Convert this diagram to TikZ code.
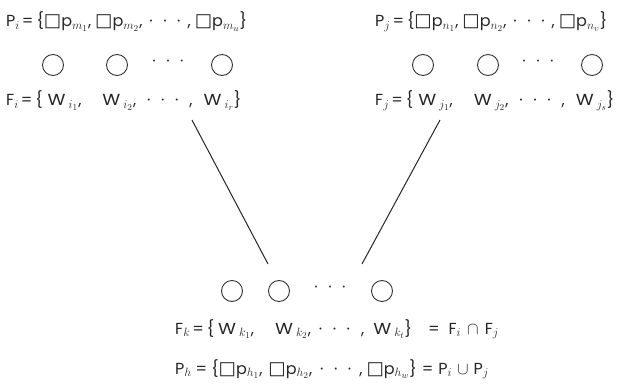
\documentclass[tikz,border=0pt]{standalone}
\usepackage{graphicx}
\usepackage{fontspec}
\setmainfont{Poppins}
\newfontfamily\symf{DejaVu Sans}
\DeclareMathSizes{16}{16}{12.5}{9}
\newcommand\sqb{\scalebox{1.15}{\symf □}}
\newcommand\dd{·\hspace{10.5pt}·\hspace{10.5pt}·}
\newcommand\Wd{\scalebox{1.15}[1]{W}}
\begin{document}
\begin{tikzpicture}[x=1pt,y=-1pt,
  txt/.style={anchor=base west,inner sep=0pt,text=black!85,font=\fontsize{16}{18}\selectfont},
  circ/.style={circle,draw=black!80,line width=0.9pt,minimum size=21pt,inner sep=0pt},
  dotsn/.style={inner sep=0pt,text=black!80,font=\fontsize{16}{18}\selectfont},
  edge/.style={draw=black!85,line width=1pt}]
\useasboundingbox (0,0) rectangle (627,385);
% left set
\node[txt] (Pi) at (6,27) {P$_i$\hspace{2pt}=\hspace{3pt}\{\sqb p$_{m_1}$,\hspace{4pt}\sqb p$_{m_2}$,\hspace{7pt}\dd\hspace{7pt},\hspace{4pt}\sqb p$_{m_u}$\}};
\node[circ] (ci1) at (53,65) {};
\node[circ] (ci2) at (117,65) {};
\node[dotsn] (di) at (168,63) {\dd};
\node[circ] (ci3) at (222,65) {};
\node[txt] (Fi) at (6,106) {F$_i$\hspace{2pt}=\hspace{3pt}\{\hspace{5pt}\Wd\hspace{3pt}$_{i_1}$,\hspace{21pt}\Wd\hspace{3pt}$_{i_2}$,\hspace{11pt}\dd\hspace{11pt},\hspace{11pt}\Wd\hspace{3pt}$_{i_r}$\}};
% right set
\node[txt] (Pj) at (375,27) {P$_j$\hspace{2pt}=\hspace{3pt}\{\sqb p$_{n_1}$,\hspace{4pt}\sqb p$_{n_2}$,\hspace{7pt}\dd\hspace{7pt},\hspace{4pt}\sqb p$_{n_v}$\}};
\node[circ] (cj1) at (423,65) {};
\node[circ] (cj2) at (488,65) {};
\node[dotsn] (dj) at (538,63) {\dd};
\node[circ] (cj3) at (592,65) {};
\node[txt] (Fj) at (375,106) {F$_j$\hspace{2pt}=\hspace{3pt}\{\hspace{5pt}\Wd\hspace{3pt}$_{j_1}$,\hspace{21pt}\Wd\hspace{3pt}$_{j_2}$,\hspace{11pt}\dd\hspace{11pt},\hspace{11pt}\Wd\hspace{3pt}$_{j_s}$\}};
% bottom set
\node[circ] (ck1) at (232,291) {};
\node[circ] (ck2) at (279,291) {};
\node[dotsn] (dk) at (330,289) {\dd};
\node[circ] (ck3) at (382,291) {};
\node[txt] (Fk) at (175,334) {F$_k$\hspace{2pt}=\hspace{3pt}\{\hspace{4pt}\Wd\hspace{3pt}$_{k_1}$,\hspace{21pt}\Wd\hspace{3pt}$_{k_2}$,\hspace{8pt}\dd\hspace{11pt},\hspace{9pt}\Wd\hspace{3pt}$_{k_t}$\}\hspace{16pt}=\hspace{9pt}F$_i$\hspace{6pt}$\cap$\hspace{6pt}F$_j$};
\node[txt] (Ph) at (175,374) {P$_h$\hspace{4pt}=\hspace{4pt}\{\sqb p$_{h_1}$,\hspace{6pt}\sqb p$_{h_2}$,\hspace{8pt}\dd\hspace{8pt},\hspace{4pt}\sqb p$_{h_w}$\}\hspace{5pt}=\hspace{5pt}P$_i$\hspace{5pt}$\cup$\hspace{5pt}P$_j$};
% connectors
\coordinate (li) at (192,120);
\coordinate (lk) at (268,264);
\coordinate (rj) at (440,120);
\coordinate (rk) at (362,264);
\draw[edge] (li) -- (lk);
\draw[edge] (rj) -- (rk);
\end{tikzpicture}
\end{document}
